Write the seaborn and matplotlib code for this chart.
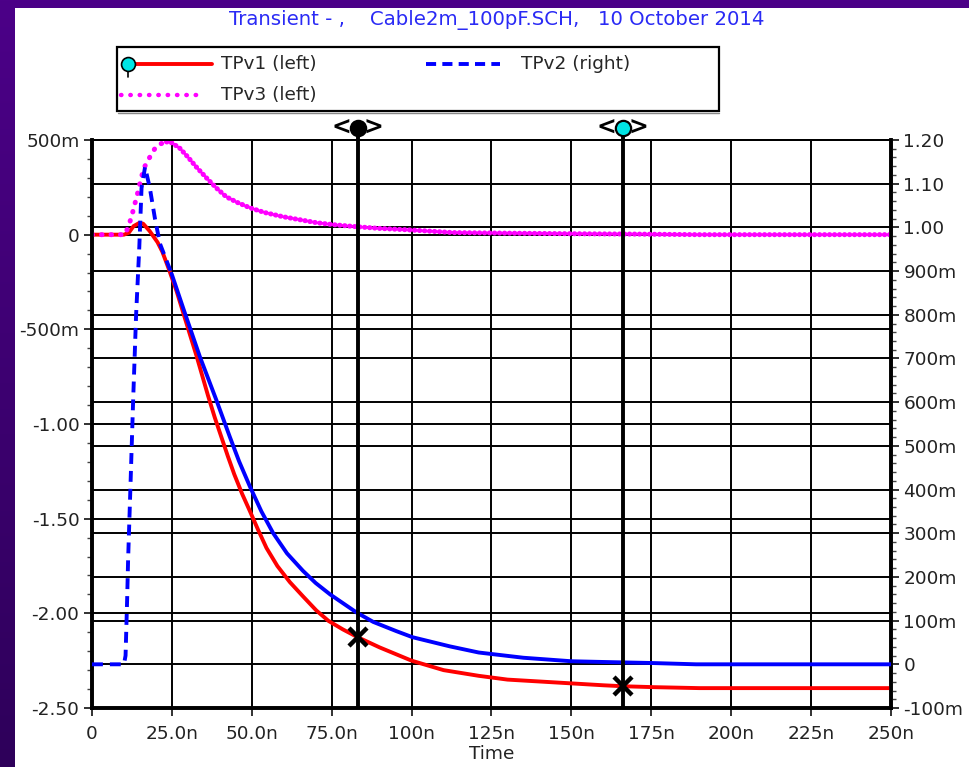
import numpy as np
import pandas as pd
import matplotlib
matplotlib.use("Agg")
import matplotlib.pyplot as plt
import matplotlib.transforms as mtrans
from matplotlib.colors import LinearSegmentedColormap
from matplotlib.patches import Rectangle
from matplotlib.ticker import FixedLocator, MultipleLocator
import seaborn as sns

# ---------------- data (time in ns) ----------------
t_v1 = [0, 10, 11.5, 13, 14.8, 16, 18, 20.5, 22, 24, 26.5, 28.5, 30.5, 32.7, 34.5,
        36.3, 38.4, 40.5, 42.5, 44.5, 47, 49.4, 52, 54.6, 58, 61.9, 66, 70.2, 74,
        78.5, 83, 90, 100, 110, 121, 130, 140, 150, 160, 166, 176, 190, 210, 230, 250]
v_v1 = [0, 0, 0.01, 0.045, 0.062, 0.058, 0.02, -0.04, -0.09, -0.18, -0.30, -0.41,
        -0.52, -0.64, -0.745, -0.85, -0.965, -1.07, -1.17, -1.265, -1.37, -1.46,
        -1.56, -1.655, -1.75, -1.835, -1.91, -1.985, -2.04, -2.085, -2.125, -2.18,
        -2.25, -2.30, -2.33, -2.35, -2.36, -2.37, -2.38, -2.385, -2.39, -2.395,
        -2.395, -2.395, -2.395]

t_v2 = [0, 10, 10.5, 11, 11.3, 12, 12.9, 13.8, 14.8, 15.5, 16.6, 18.1, 19.7, 21.25,
        24.9, 29.1, 33.75, 38.9, 43.1, 46, 49.4, 53, 56.7, 61, 66, 70, 74.5, 78.5,
        82.7, 88, 95.2, 100.3, 112, 121, 135, 150, 162, 175, 189, 220, 250]
v_v2 = [0, 0, 0.02, 0.15, 0.24, 0.40, 0.61, 0.80, 0.955, 1.09, 1.138, 1.09, 1.02,
        0.963, 0.894, 0.803, 0.704, 0.605, 0.521, 0.465, 0.407, 0.35, 0.30, 0.254,
        0.214, 0.186, 0.16, 0.14, 0.119, 0.097, 0.076, 0.062, 0.041, 0.027, 0.015,
        0.007, 0.005, 0.003, 0.0, 0.0, 0.0]

t_v3 = [0, 10, 10.3, 10.8, 11.5, 12.4, 13.2, 14, 15.5, 16.5, 18.1, 20.2, 21.5, 23.3,
        25, 27.5, 30, 32.5, 35.8, 39, 42, 45.5, 49.4, 54, 59.7, 65, 70.3, 76, 82.8,
        90, 98.4, 113, 130, 150, 170, 190, 220, 250]
v_v3 = [0, 0, 0.0, 0.02, 0.05, 0.096, 0.15, 0.20, 0.307, 0.36, 0.41, 0.47, 0.48,
        0.49, 0.485, 0.456, 0.41, 0.36, 0.30, 0.245, 0.20, 0.17, 0.142, 0.117,
        0.095, 0.079, 0.063, 0.052, 0.042, 0.033, 0.026, 0.011, 0.008, 0.005,
        0.003, 0.0, 0.0, 0.0]

cursor_t = [83.1, 166.0]
cursor_v1 = [-2.125, -2.385]
cursor_colors = ["black", "#00E5E5"]

x_ticks = [0, 25, 50, 75, 100, 125, 150, 175, 200, 225, 250]
x_labels = ["0", "25.0n", "50.0n", "75.0n", "100n", "125n", "150n", "175n",
            "200n", "225n", "250n"]
left_ticks = [0.5, 0.0, -0.5, -1.0, -1.5, -2.0, -2.5]
left_labels = ["500m", "0", "-500m", "-1.00", "-1.50", "-2.00", "-2.50"]
right_ticks = [1.2, 1.1, 1.0, 0.9, 0.8, 0.7, 0.6, 0.5, 0.4, 0.3, 0.2, 0.1, 0.0, -0.1]
right_labels = ["1.20", "1.10", "1.00", "900m", "800m", "700m", "600m", "500m",
                "400m", "300m", "200m", "100m", "0", "-100m"]

title_text = "Transient - ,    Cable2m_100pF.SCH,   10 October 2014"
series_names = ["TPv1 (left)", "TPv2 (right)", "TPv3 (left)"]

RED = "#FF0000"
BLUE = "#0000FF"
MAG = "#FF00FF"
FS = 13.3

# ---------------- style ----------------
sns.set_style("white")
plt.rcParams['font.family'] = ['DejaVu Sans']

W, H = 970, 767
fig = plt.figure(figsize=(W / 100, H / 100), dpi=100)

def fx(px):
    return px / W

def fy(py):
    return 1 - py / H

# background: purple gradient border + white panel
bg = fig.add_axes([0, 0, 1, 1], zorder=-10)
grad = np.linspace(0, 1, 256).reshape(-1, 1)
cmap = LinearSegmentedColormap.from_list("p", ["#4C0088", "#2E005A"])
bg.imshow(grad, aspect="auto", cmap=cmap, extent=[0, 1, 0, 1], origin="upper")
bg.add_patch(Rectangle((fx(15), 0), 1, fy(8), color="white", lw=0))
bg.set_xlim(0, 1)
bg.set_ylim(0, 1)
bg.set_axis_off()

# title
fig.text(fx(497), fy(20), title_text, ha="center", va="center",
         fontsize=14.2, color="#2A2AF5")

# ---------------- legend (manual) ----------------
bg.add_patch(Rectangle((fx(117), fy(111)), fx(719) - fx(117), fy(47) - fy(111),
                       facecolor="white", edgecolor="black", lw=1.6, zorder=2))
bg.plot([fx(118), fx(719)], [fy(113), fy(113)], color="#888888", lw=1.0, zorder=2)
bg.plot([fx(128), fx(212)], [fy(64), fy(64)], color=RED, lw=2.8, zorder=3)
bg.plot([fx(128), fx(128)], [fy(64), fy(77)], color="black", lw=1.2, zorder=3)
bg.plot([fx(128)], [fy(64)], marker="o", ms=10, mfc="#00E5E5", mec="black",
        mew=1.2, zorder=4)
fig.text(fx(221), fy(64), series_names[0], ha="left", va="center", fontsize=FS)
bg.plot([fx(426), fx(500)], [fy(64), fy(64)], color=BLUE, lw=2.8,
        linestyle=(0, (2.6, 1.6)), zorder=3)
fig.text(fx(521), fy(64), series_names[1], ha="left", va="center", fontsize=FS)
bg.plot([fx(121), fx(200)], [fy(95), fy(95)], color=MAG, lw=3.2,
        linestyle=(0, (0.1, 2.0)), dash_capstyle="round", zorder=3)
fig.text(fx(221), fy(95), series_names[2], ha="left", va="center", fontsize=FS)

# ---------------- main axes ----------------
ax = fig.add_axes([fx(92), fy(708), fx(891) - fx(92), fy(140) - fy(708)])
ax.set_xlim(0, 250)
ax.set_ylim(-2.5, 0.5)
ax2 = ax.twinx()
ax2.set_ylim(-0.1, 1.2)

# grid lines
ax.set_axisbelow(True)
ax.grid(True, which="major", axis="both", color="black", lw=1.4)
blend_r = mtrans.blended_transform_factory(ax.transAxes, ax2.transData)
for v in right_ticks:
    ax.plot([0, 1], [v, v], transform=blend_r, color="black", lw=1.4, zorder=0.8)

# series
df1 = pd.DataFrame({"t": t_v1, "v": v_v1})
df2 = pd.DataFrame({"t": t_v2, "v": v_v2})
df3 = pd.DataFrame({"t": t_v3, "v": v_v3})

sns.lineplot(data=df1, x="t", y="v", ax=ax, color=RED, linewidth=2.8,
             estimator=None, sort=False, legend=False, zorder=3)

m3a = df3[df3.t <= 23.3]
m3b = df3[df3.t >= 23.3]
sns.lineplot(data=m3a, x="t", y="v", ax=ax, color=MAG, linewidth=3.6,
             linestyle=(0, (0.1, 1.8)), dash_capstyle="round",
             estimator=None, sort=False, legend=False, zorder=3)
sns.lineplot(data=m3b, x="t", y="v", ax=ax, color=MAG, linewidth=3.6,
             linestyle=(0, (0.1, 0.9)), dash_capstyle="round",
             estimator=None, sort=False, legend=False, zorder=3)

b_a = df2[df2.t <= 24.9]
b_b = df2[df2.t >= 24.9]
sns.lineplot(data=b_a, x="t", y="v", ax=ax2, color=BLUE, linewidth=2.8,
             linestyle=(0, (2.8, 1.8)), estimator=None, sort=False,
             legend=False, zorder=3)
sns.lineplot(data=b_b, x="t", y="v", ax=ax2, color=BLUE, linewidth=2.8,
             estimator=None, sort=False, legend=False, zorder=3)
ax2.set_ylim(-0.1, 1.2)
ax.set_xlim(0, 250)

# cursors
blend_c = mtrans.blended_transform_factory(ax2.transData, ax2.transAxes)
top_y = 1 + 12 / 568
for c, col in zip(cursor_t, cursor_colors):
    ax2.plot([c, c], [0, top_y], transform=blend_c, color="black", lw=2.8,
             clip_on=False, zorder=6, solid_capstyle="butt")
    ax2.plot([c], [top_y], transform=blend_c, marker="o", ms=11, mfc=col,
             mec="black", mew=1.6, clip_on=False, zorder=7)
    for ch, dx in (("<", -16), (">", 16)):
        ax2.annotate(ch, xy=(c, top_y), xycoords=blend_c, xytext=(dx, 0),
                     textcoords="offset pixels", ha="center", va="center",
                     fontsize=17, fontweight="bold", color="black",
                     annotation_clip=False, zorder=7)
ax.plot(cursor_t, cursor_v1, linestyle="none", marker="x", ms=13, mew=3.2,
        color="black", zorder=8)

# ticks
ax.xaxis.set_major_locator(FixedLocator(x_ticks))
ax.set_xticklabels(x_labels)
ax.yaxis.set_major_locator(FixedLocator(left_ticks))
ax.set_yticklabels(left_labels)
ax.yaxis.set_minor_locator(MultipleLocator(0.1))
ax2.yaxis.set_major_locator(FixedLocator(right_ticks))
ax2.set_yticklabels(right_labels)
ax2.yaxis.set_minor_locator(MultipleLocator(0.02))

ax.tick_params(axis="x", which="major", direction="out", length=6, width=1.3,
               labelsize=FS, pad=6, colors="#222222", bottom=True)
ax.tick_params(axis="y", which="major", direction="out", length=6, width=1.3,
               labelsize=FS, pad=3, colors="#222222", left=True)
ax.tick_params(axis="y", which="minor", direction="out", length=3.5, width=1.0,
               left=True, colors="#444444")
ax2.tick_params(axis="y", which="major", direction="out", length=6, width=1.3,
                labelsize=FS, pad=3, colors="#222222", right=True)
ax2.tick_params(axis="y", which="minor", direction="out", length=3.5, width=1.0,
                right=True, colors="#444444")
ax2.tick_params(axis="x", bottom=False, top=False)

ax.set_xlabel("Time", fontsize=FS, color="#222222")
ax.xaxis.set_label_coords(0.5, -0.066)
ax.set_ylabel("")
ax2.set_ylabel("")

for a in (ax, ax2):
    for side in ("left", "bottom", "right"):
        a.spines[side].set_color("black")
        a.spines[side].set_linewidth(2.6)
    a.spines["top"].set_color("black")
    a.spines["top"].set_linewidth(1.4)

fig.savefig("out.png", dpi=100)
